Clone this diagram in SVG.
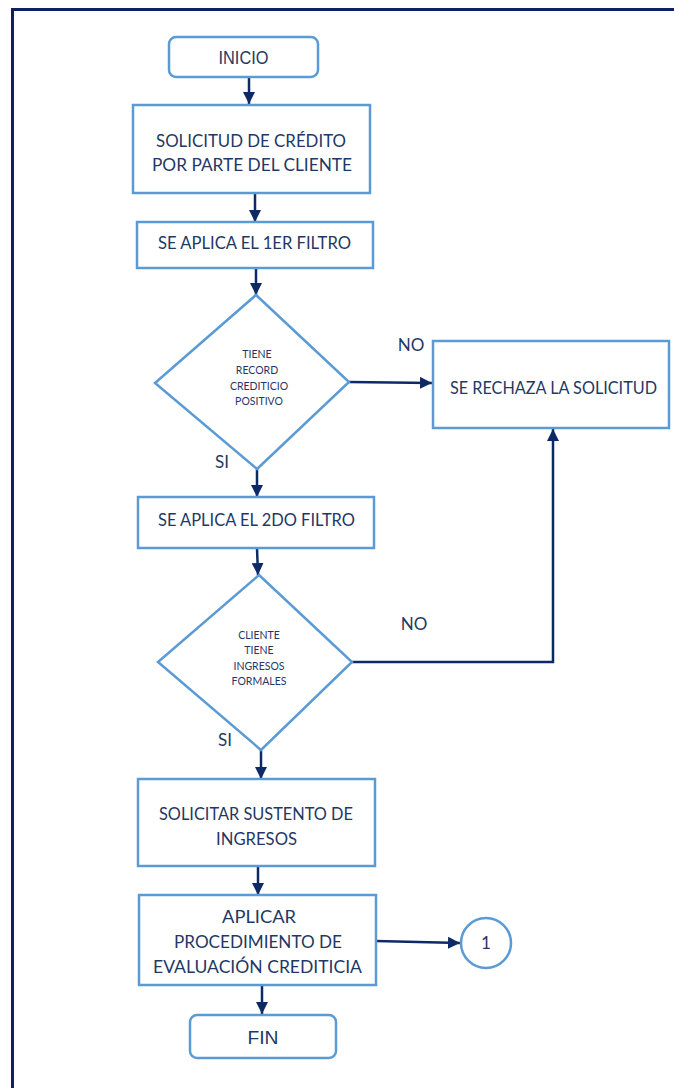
<svg xmlns="http://www.w3.org/2000/svg" width="674" height="1088" viewBox="0 0 674 1088">
  <defs>
    <marker id="arrowhead" viewBox="0 0 12 12" refX="12" refY="6" markerWidth="12" markerHeight="12" orient="auto" markerUnits="userSpaceOnUse">
      <path d="M0,0 L12,6 L0,12 z" fill="#0d2a66"/>
    </marker>
  </defs>
  <style>
    .box { fill: #ffffff; stroke: #5b9bd5; stroke-width: 2.5; }
    .lbl { font-family: Lato, "Open Sans", sans-serif; font-size: 17px; fill: #1f3864; text-anchor: middle; }
    .small { font-family: Lato, "Open Sans", sans-serif; font-size: 10.5px; fill: #1f3864; text-anchor: middle; }
    .narrow { font-family: "Liberation Sans Narrow", "Liberation Sans", sans-serif; font-size: 18px; fill: #1f3864; text-anchor: middle; }
    .edge { fill: none; stroke: #0d2a66; stroke-width: 2.5; marker-end: url(#arrowhead); }
    .frame { fill: none; stroke: #0b2160; stroke-width: 3; }
  </style>

  <rect width="674" height="1088" fill="#ffffff"/>
  <!-- page frame: top and left rules -->
  <path class="frame" d="M12.5,1088 L12.5,9.5 L674,9.5"/>

  <g id="connectors">
    <path class="edge" d="M249,77 L249,104"/>
    <path class="edge" d="M255,193 L255,222"/>
    <path class="edge" d="M256,268 L256,295"/>
    <path class="edge" d="M349,382 L432,383"/>
    <path class="edge" d="M257,469 L257,497"/>
    <path class="edge" d="M257,548 L258,575"/>
    <path class="edge" d="M352,662 L553,662 L553,429"/>
    <path class="edge" d="M261,750 L261,779"/>
    <path class="edge" d="M258,866 L258,895"/>
    <path class="edge" d="M376,941 L460,943"/>
    <path class="edge" d="M262,985 L262,1014"/>
  </g>

  <g id="inicio">
    <rect class="box" x="169" y="37" width="149" height="40" rx="7"/>
    <text class="narrow" x="243.5" y="63.5" textLength="50" lengthAdjust="spacingAndGlyphs">INICIO</text>
  </g>

  <g id="solicitud">
    <rect class="box" x="133" y="105" width="237" height="88"/>
    <text class="lbl" x="251" y="147" textLength="190" lengthAdjust="spacingAndGlyphs">SOLICITUD DE CRÉDITO</text>
    <text class="lbl" x="252" y="171" textLength="200" lengthAdjust="spacingAndGlyphs">POR PARTE DEL CLIENTE</text>
  </g>

  <g id="filtro1">
    <rect class="box" x="137" y="222" width="236" height="46"/>
    <text class="lbl" x="254.5" y="249" textLength="193" lengthAdjust="spacingAndGlyphs">SE APLICA EL 1ER FILTRO</text>
  </g>

  <g id="decision1">
    <polygon class="box" points="256,295 349,382 257,469 155,383"/>
    <text class="small" x="257" y="358">TIENE</text>
    <text class="small" x="257" y="374">RECORD</text>
    <text class="small" x="259" y="390">CREDITICIO</text>
    <text class="small" x="259" y="405">POSITIVO</text>
  </g>

  <g id="rechazo">
    <rect class="box" x="433" y="341" width="236" height="87"/>
    <text class="lbl" x="553.5" y="394" textLength="207" lengthAdjust="spacingAndGlyphs">SE RECHAZA LA SOLICITUD</text>
  </g>

  <g id="filtro2">
    <rect class="box" x="138" y="497" width="236" height="51"/>
    <text class="lbl" x="256.5" y="526" textLength="197" lengthAdjust="spacingAndGlyphs">SE APLICA EL 2DO FILTRO</text>
  </g>

  <g id="decision2">
    <polygon class="box" points="259,575 352,662 261,750 158,662"/>
    <text class="small" x="259" y="639">CLIENTE</text>
    <text class="small" x="259" y="654">TIENE</text>
    <text class="small" x="259" y="670">INGRESOS</text>
    <text class="small" x="259" y="685">FORMALES</text>
  </g>

  <g id="sustento">
    <rect class="box" x="138" y="779" width="237" height="87"/>
    <text class="lbl" x="256" y="820" textLength="194" lengthAdjust="spacingAndGlyphs">SOLICITAR SUSTENTO DE</text>
    <text class="lbl" x="256.5" y="845" textLength="81" lengthAdjust="spacingAndGlyphs">INGRESOS</text>
  </g>

  <g id="evaluacion">
    <rect class="box" x="139" y="895" width="237" height="90"/>
    <text class="lbl" x="259" y="923" textLength="74" lengthAdjust="spacingAndGlyphs">APLICAR</text>
    <text class="lbl" x="258" y="948" textLength="168" lengthAdjust="spacingAndGlyphs">PROCEDIMIENTO DE</text>
    <text class="lbl" x="257.5" y="973" textLength="209" lengthAdjust="spacingAndGlyphs">EVALUACIÓN CREDITICIA</text>
  </g>

  <g id="conector1">
    <circle class="box" cx="486" cy="943" r="25"/>
    <text class="lbl" x="486" y="949">1</text>
  </g>

  <g id="fin">
    <rect class="box" x="190" y="1015" width="146" height="43" rx="7"/>
    <text class="narrow" x="263" y="1043.5" textLength="31" lengthAdjust="spacingAndGlyphs">FIN</text>
  </g>

  <g id="etiquetas">
    <text class="lbl" x="411" y="351">NO</text>
    <text class="lbl" x="222" y="468">SI</text>
    <text class="lbl" x="414" y="630">NO</text>
    <text class="lbl" x="225" y="746">SI</text>
  </g>
</svg>
